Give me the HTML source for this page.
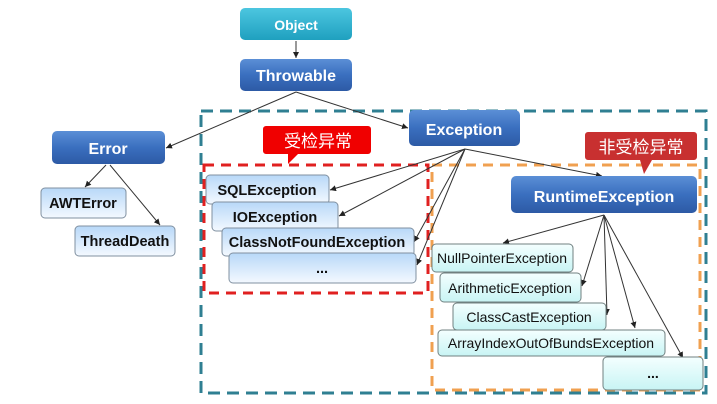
<!DOCTYPE html>
<html><head><meta charset="utf-8"><style>
html,body{margin:0;padding:0;background:#fff;width:717px;height:404px;overflow:hidden}
svg text{font-family:"Liberation Sans","Noto Sans CJK SC",sans-serif}
</style></head><body>
<svg width="717" height="404" viewBox="0 0 717 404" xmlns="http://www.w3.org/2000/svg">
<defs>
<linearGradient id="blue" x1="0" y1="0" x2="0" y2="1"><stop offset="0" stop-color="#5b8fd6"/><stop offset="0.5" stop-color="#3a6fbf"/><stop offset="1" stop-color="#2d5aa5"/></linearGradient>
<linearGradient id="teal" x1="0" y1="0" x2="0" y2="1"><stop offset="0" stop-color="#4cc6e0"/><stop offset="1" stop-color="#1fa0bf"/></linearGradient>
<linearGradient id="lb" x1="0" y1="0" x2="0" y2="1"><stop offset="0" stop-color="#b8d8f8"/><stop offset="1" stop-color="#f4f9ff"/></linearGradient>
<linearGradient id="cy" x1="0" y1="0" x2="0" y2="1"><stop offset="0" stop-color="#f4ffff"/><stop offset="1" stop-color="#c8f4f4"/></linearGradient>
<marker id="a" markerWidth="7" markerHeight="7" refX="6" refY="3" orient="auto"><path d="M0,0 L6,3 L0,6 z" fill="#222"/></marker>
</defs>
<rect x="201" y="111" width="505" height="282" fill="none" stroke="#2f7f92" stroke-width="3" stroke-dasharray="12,7"/>
<rect x="432" y="165" width="268" height="225" fill="none" stroke="#f0a050" stroke-width="3" stroke-dasharray="10,7"/>
<rect x="204" y="165" width="224" height="128" fill="none" stroke="#e02020" stroke-width="3" stroke-dasharray="10,7"/>
<path d="M266,126 h102 a3,3 0 0 1 3,3 v22 a3,3 0 0 1 -3,3 h-70 l-10,10 l0,-10 h-22 a3,3 0 0 1 -3,-3 v-22 a3,3 0 0 1 3,-3z" fill="#f00000"/>
<text x="318" y="147" font-size="17" fill="#fff" text-anchor="middle">受检异常</text>
<path d="M588,132 h106 a3,3 0 0 1 3,3 v22 a3,3 0 0 1 -3,3 h-42 l-8,14 l-4,-14 h-52 a3,3 0 0 1 -3,-3 v-22 a3,3 0 0 1 3,-3z" fill="#c83030"/>
<text x="641" y="153" font-size="17" fill="#fff" text-anchor="middle">非受检异常</text>
<g stroke="#333" stroke-width="1" fill="none" marker-end="url(#a)">
<line x1="296" y1="41" x2="296" y2="58"/>
<line x1="296" y1="92" x2="166" y2="148"/>
<line x1="296" y1="92" x2="408" y2="128"/>
<line x1="106" y1="165" x2="85" y2="187"/>
<line x1="110" y1="165" x2="160" y2="225"/>
<line x1="465" y1="149" x2="330" y2="190"/>
<line x1="465" y1="149" x2="339" y2="216"/>
<line x1="465" y1="149" x2="414" y2="242"/>
<line x1="465" y1="149" x2="417" y2="265"/>
<line x1="465" y1="149" x2="602" y2="176"/>
<line x1="604" y1="215" x2="503" y2="243"/>
<line x1="604" y1="215" x2="582" y2="286"/>
<line x1="604" y1="215" x2="607" y2="315"/>
<line x1="604" y1="215" x2="635" y2="328"/>
<line x1="604" y1="215" x2="683" y2="358"/>
</g>
<rect x="240" y="8" width="112" height="32" rx="5" fill="url(#teal)"/>
<text x="296" y="30" font-size="14" font-weight="bold" fill="#fff" text-anchor="middle">Object</text>
<rect x="240" y="59" width="112" height="32" rx="5" fill="url(#blue)"/>
<text x="296" y="81" font-size="16" font-weight="bold" fill="#fff" text-anchor="middle">Throwable</text>
<rect x="52" y="131" width="113" height="33" rx="5" fill="url(#blue)"/>
<text x="108" y="154" font-size="16" font-weight="bold" fill="#fff" text-anchor="middle">Error</text>
<rect x="409" y="110" width="111" height="36" rx="5" fill="url(#blue)"/>
<text x="464" y="135" font-size="16" font-weight="bold" fill="#fff" text-anchor="middle">Exception</text>
<rect x="511" y="176" width="186" height="37" rx="5" fill="url(#blue)"/>
<text x="604" y="202" font-size="16" font-weight="bold" fill="#fff" text-anchor="middle">RuntimeException</text>
<g stroke="#8090a0" stroke-width="1" fill="url(#lb)">
<rect x="41" y="188" width="85" height="30" rx="4"/>
<rect x="75" y="226" width="100" height="30" rx="4"/>
<rect x="206" y="175" width="123" height="29" rx="4"/>
<rect x="212" y="202" width="126" height="29" rx="4"/>
<rect x="222" y="228" width="192" height="28" rx="4"/>
<rect x="229" y="253" width="187" height="30" rx="4"/>
</g>
<g font-size="14.5" font-weight="bold" fill="#111" text-anchor="middle">
<text x="83" y="208">AWTError</text>
<text x="125" y="246">ThreadDeath</text>
<text x="267" y="195">SQLException</text>
<text x="275" y="222">IOException</text>
<text x="317" y="247">ClassNotFoundException</text>
<text x="322" y="273">...</text>
</g>
<g stroke="#708080" stroke-width="1" fill="url(#cy)">
<rect x="432" y="244" width="141" height="28" rx="4"/>
<rect x="440" y="273" width="141" height="29" rx="4"/>
<rect x="453" y="303" width="153" height="27" rx="4"/>
<rect x="438" y="330" width="227" height="26" rx="4"/>
<rect x="603" y="357" width="100" height="33" rx="4"/>
</g>
<g font-size="14" fill="#111" text-anchor="middle">
<text x="502" y="263">NullPointerException</text>
<text x="510" y="293">ArithmeticException</text>
<text x="529" y="322">ClassCastException</text>
<text x="551" y="348">ArrayIndexOutOfBundsException</text>
<text x="653" y="378" font-weight="bold">...</text>
</g>
</svg>
</body></html>
